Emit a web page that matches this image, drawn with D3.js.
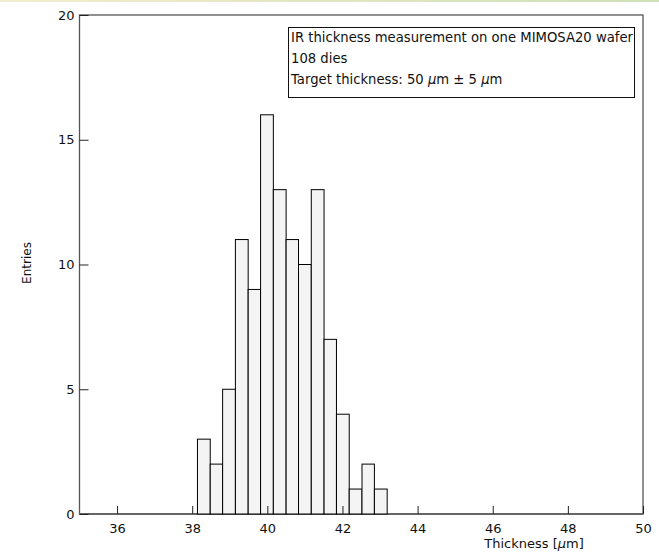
<!DOCTYPE html>
<html>
<head>
<meta charset="utf-8">
<script src="https://cdn.jsdelivr.net/npm/d3@7"></script>
<style>
  body { margin: 0; background: #fff; }
  svg text { font-family: "DejaVu Sans", sans-serif; fill: #111; }
</style>
</head>
<body>
<div class="content"></div>
<script>
// histogram bins (thickness, um) and entries per bin
var binEdges = [38.14, 38.48, 38.81, 39.15, 39.49, 39.82, 40.16, 40.50, 40.83, 41.17, 41.51, 41.84, 42.18, 42.52, 42.85, 43.19];
var counts = [3, 2, 5, 11, 9, 16, 13, 11, 10, 13, 7, 4, 1, 2, 1];
var xTicks = [36, 38, 40, 42, 44, 46, 48, 50];
var yTicks = [0, 5, 10, 15, 20];
var legendLines = ["IR thickness measurement on one MIMOSA20 wafer", "108 dies", "Target thickness: 50 "];

var W = 659, H = 556;
var plotL = 79.5, plotR = 643, plotT = 15, plotB = 514;

var svg = d3.select('.content').append('svg')
    .attr('width', W).attr('height', H);

var x = d3.scaleLinear().domain([35, 50]).range([plotL, plotR]);
var y = d3.scaleLinear().domain([0, 20]).range([plotB, plotT]);

// faint band at top of the image
var grad = svg.append('defs').append('linearGradient').attr('id', 'band');
grad.append('stop').attr('offset', '0%').attr('stop-color', '#f3ecd0');
grad.append('stop').attr('offset', '100%').attr('stop-color', '#cfe0b8');
svg.append('rect').attr('x', 0).attr('y', 0).attr('width', W).attr('height', 2).attr('fill', 'url(#band)');

// frame
svg.append('rect')
    .attr('x', plotL).attr('y', plotT)
    .attr('width', plotR - plotL).attr('height', plotB - plotT)
    .attr('fill', 'none').attr('stroke', '#555').attr('stroke-width', 1.3);
svg.append('line')
    .attr('x1', plotL).attr('x2', plotR).attr('y1', plotB).attr('y2', plotB)
    .attr('stroke', '#666').attr('stroke-width', 2);

// bars
var bins = counts.map(function(c, i) { return {x0: binEdges[i], x1: binEdges[i+1], n: c}; });
svg.selectAll('rect.bar').data(bins).enter().append('rect')
    .attr('class', 'bar')
    .attr('x', function(d) { return x(d.x0); })
    .attr('y', function(d) { return y(d.n); })
    .attr('width', function(d) { return x(d.x1) - x(d.x0); })
    .attr('height', function(d) { return y(0) - y(d.n); })
    .attr('fill', '#f4f4f4')
    .attr('stroke', '#000')
    .attr('stroke-width', 1);

// x axis (ticks pointing up)
var xAxis = d3.axisTop(x).tickValues(xTicks).tickSize(8).tickFormat(d3.format('d'));
var gx = svg.append('g').attr('transform', 'translate(0,' + plotB + ')').call(xAxis);
gx.select('.domain').remove();
gx.selectAll('line').attr('stroke', '#222');
gx.selectAll('text').attr('y', 10).attr('dy', '0.71em').style('font-size', '13px');
gx.attr('font-family', null).attr('font-size', null);

// y axis (ticks pointing right)
var yAxis = d3.axisRight(y).tickValues(yTicks).tickSize(9);
var gy = svg.append('g').attr('transform', 'translate(' + plotL + ',0)').call(yAxis);
gy.select('.domain').remove();
gy.selectAll('line').attr('stroke', '#222');
gy.selectAll('text').attr('x', -5).attr('text-anchor', 'end').style('font-size', '13px');
gy.attr('font-family', null).attr('font-size', null).attr('text-anchor', null);

// axis titles
var xt = svg.append('text').attr('x', 534).attr('y', 548).attr('text-anchor', 'middle').style('font-size', '13px');
xt.append('tspan').text('Thickness [');
xt.append('tspan').style('font-style', 'italic').text('\u03bc');
xt.append('tspan').text('m]');

svg.append('text')
    .attr('transform', 'translate(31,263) rotate(-90)')
    .attr('text-anchor', 'middle')
    .style('font-size', '12px')
    .text('Entries');

// legend box
svg.append('rect')
    .attr('x', 288.5).attr('y', 27.5).attr('width', 346).attr('height', 70)
    .attr('fill', '#fff').attr('stroke', '#111').attr('stroke-width', 1);

legendLines.forEach(function(t, i) {
  var tx = svg.append('text').attr('x', 291).attr('y', 42 + i * 21).style('font-size', '13.2px');
  tx.append('tspan').text(t);
  if (i === 2) {
    tx.append('tspan').style('font-style', 'italic').text('\u03bc');
    tx.append('tspan').text('m \u00b1 5 ');
    tx.append('tspan').style('font-style', 'italic').text('\u03bc');
    tx.append('tspan').text('m');
  }
});
</script>
</body>
</html>
